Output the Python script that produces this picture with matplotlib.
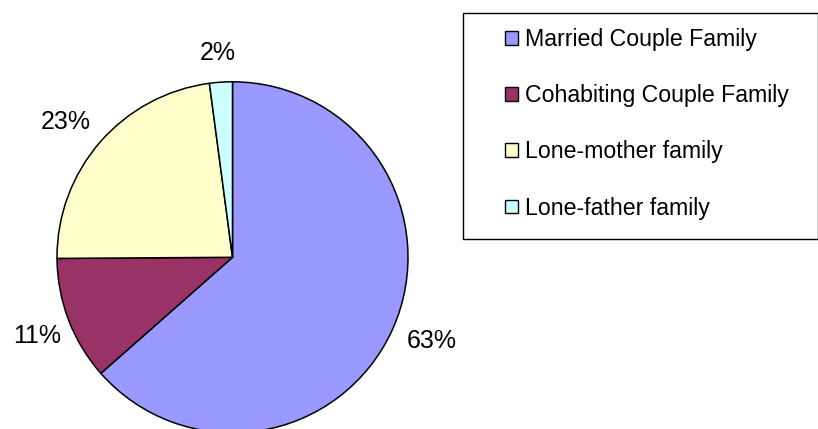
import matplotlib
matplotlib.use('Agg')
import matplotlib.pyplot as plt
from matplotlib.patches import Patch, Rectangle

plt.rcParams['font.family'] = ['Liberation Sans', 'DejaVu Sans']

# data
categories = ['Married Couple Family', 'Cohabiting Couple Family',
              'Lone-mother family', 'Lone-father family']
shares = [63.5, 11.4, 23.0, 2.1]
pct_labels = ['63%', '11%', '23%', '2%']
colors = ['#9999FF', '#993366', '#FFFFCC', '#CCFFFF']

# label centres in pixel space (x, y from top)
label_pos = [(432, 341), (37, 336), (66, 122), (218, 53)]

W, H = 818, 429
fig = plt.figure(figsize=(W / 100, H / 100), dpi=100)
ax = fig.add_axes([0, 0, 1, 1])

cx, cy, r = 232.5, 257.3, 175.5
ax.pie(shares, colors=colors, startangle=90, counterclock=False,
       center=(cx, H - cy), radius=r,
       wedgeprops=dict(edgecolor='black', linewidth=1.1))

for txt, (x, y) in zip(pct_labels, label_pos):
    ax.text(x, H - y, txt, fontsize=18, ha='center', va='center')

# legend box
ax.add_patch(Rectangle((463, H - 239), 355, 226, facecolor='white',
                       edgecolor='black', linewidth=1.0, zorder=1))
handles = [Patch(facecolor=c, edgecolor='black', linewidth=1.0) for c in colors]
leg = ax.legend(handles, categories, loc='upper left', frameon=False,
                bbox_to_anchor=(505, H - 28), bbox_transform=ax.transData,
                fontsize=16.7, borderpad=0, borderaxespad=0,
                handlelength=0.56, handleheight=0.52, handletextpad=0.3,
                labelspacing=1.43)
leg.set_zorder(2)

ax.set_xlim(0, W)
ax.set_ylim(0, H)
ax.set_aspect('equal')
ax.axis('off')

fig.savefig('out.png', dpi=100)
